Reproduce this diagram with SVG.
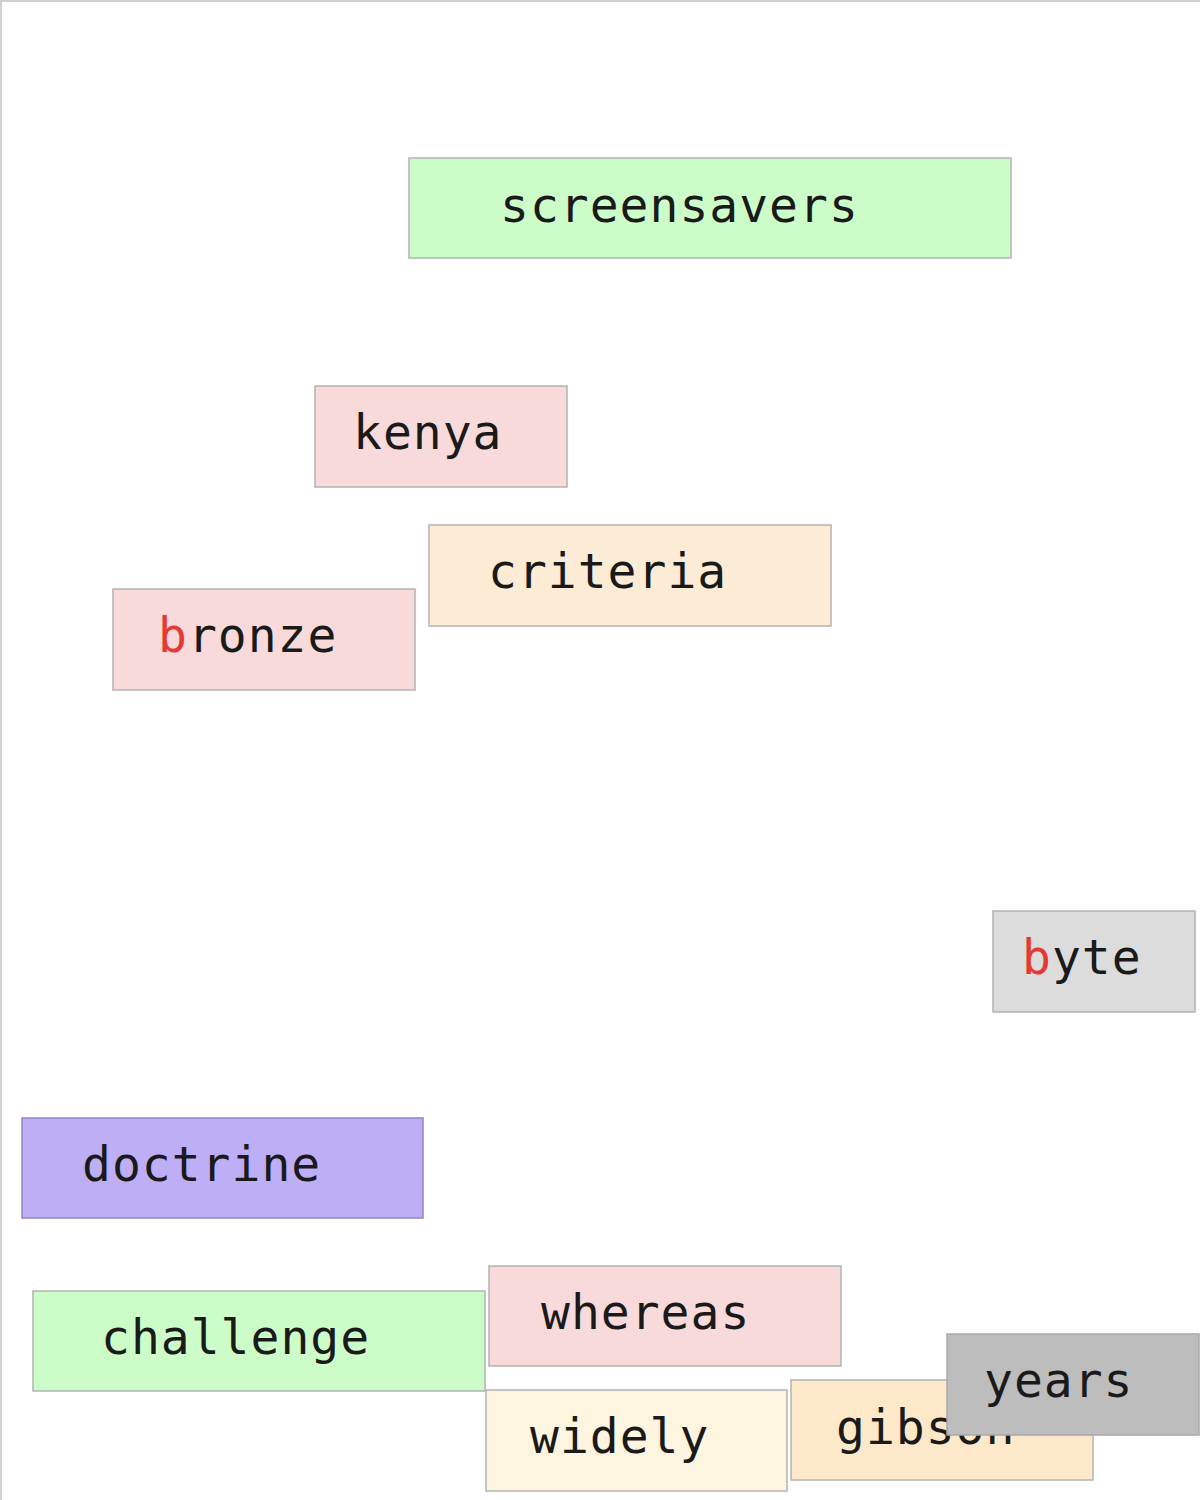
<svg xmlns="http://www.w3.org/2000/svg" width="1200" height="1500" viewBox="0 0 1200 1500">
<style>
.box{stroke:#b3b3b3;stroke-width:1.5}
.lbl{font-family:"DejaVu Sans Mono","Liberation Mono",monospace;font-size:48px;letter-spacing:1px;fill:#1a1a1a}
.hl{fill:#e53935}
</style>
<rect x="0" y="0" width="1200" height="1500" fill="#ffffff"/>
<path d="M1,1500 V1 H1200" fill="none" stroke="#d0d0d0" stroke-width="2"/>
<g id="connectors"></g>
<g id="screensavers"><rect class="box" x="409" y="158" width="602" height="100" fill="#ccfcc8"/><text class="lbl" x="500" y="222">screensavers</text></g>
<g id="kenya"><rect class="box" x="315" y="386" width="252" height="101" fill="#f8dadb"/><text class="lbl" x="353" y="449">kenya</text></g>
<g id="criteria"><rect class="box" x="429" y="525" width="402" height="101" fill="#fcecd5"/><text class="lbl" x="488" y="588">criteria</text></g>
<g id="bronze"><rect class="box" x="113" y="589" width="302" height="101" fill="#f8dadb"/><text class="lbl" x="158" y="652"><tspan class="hl">b</tspan>ronze</text></g>
<g id="byte"><rect class="box" x="993" y="911" width="202" height="101" fill="#dcdcdc"/><text class="lbl" x="1022" y="974"><tspan class="hl">b</tspan>yte</text></g>
<g id="doctrine"><rect x="22" y="1118" width="401" height="100" fill="#bdaef6" stroke="#8f84cc" stroke-width="1.5"/><text class="lbl" x="82" y="1181">doctrine</text></g>
<g id="challenge"><rect class="box" x="33" y="1291" width="452" height="100" fill="#ccfcc8"/><text class="lbl" x="101" y="1354">challenge</text></g>
<g id="whereas"><rect class="box" x="489" y="1266" width="352" height="100" fill="#f8dadb"/><text class="lbl" x="541" y="1329">whereas</text></g>
<g id="widely"><rect class="box" x="486" y="1390" width="301" height="101" fill="#fdf5e0"/><text class="lbl" x="530" y="1453">widely</text></g>
<g id="gibson"><rect class="box" x="791" y="1380" width="302" height="100" fill="#fde9c9"/><text class="lbl" x="836" y="1444">gibson</text></g>
<g id="years"><rect x="947" y="1334" width="252" height="101" fill="#bdbdbd" stroke="#a8a8a8" stroke-width="1.5"/><text class="lbl" x="984" y="1397">years</text></g>
</svg>
